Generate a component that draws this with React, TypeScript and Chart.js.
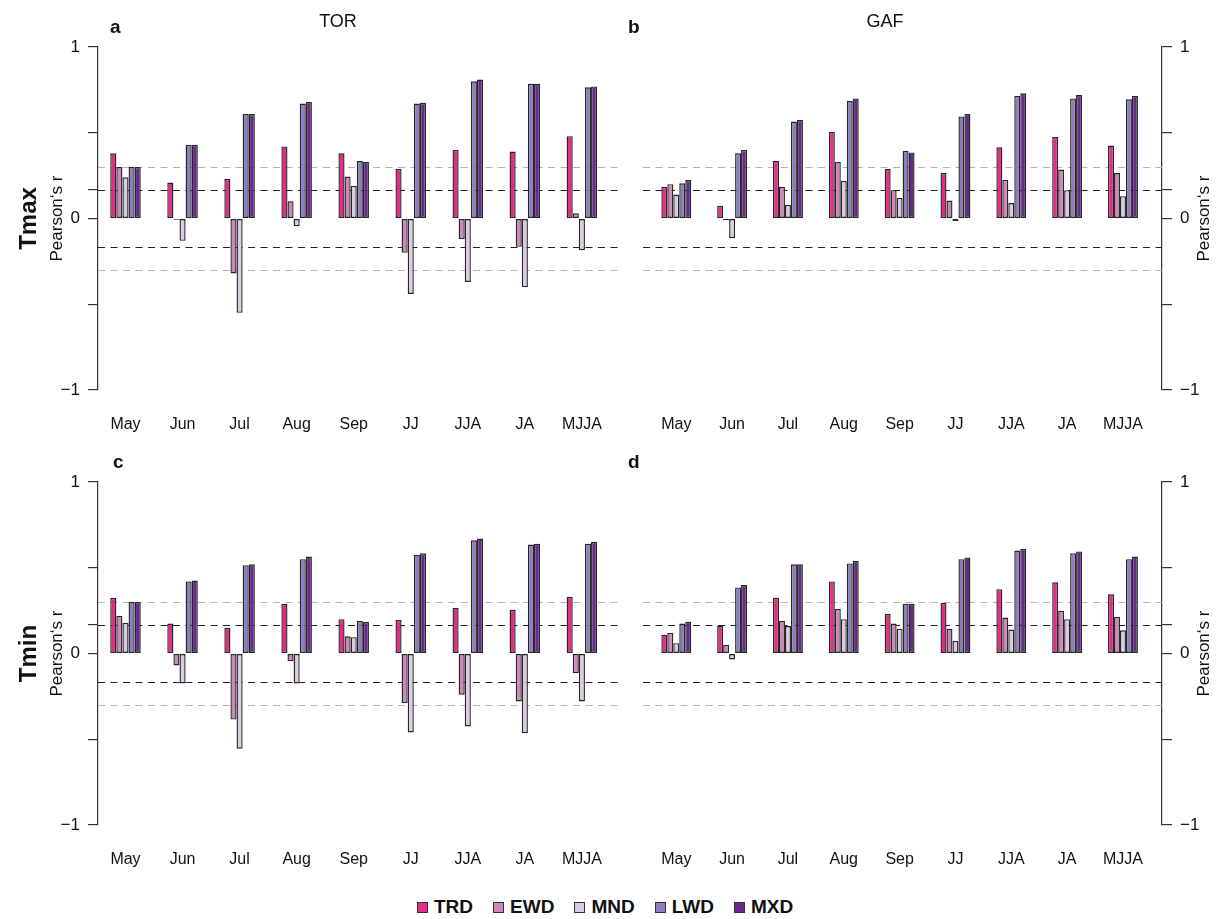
import React, { useEffect, useRef } from 'react';
import { Chart, registerables } from 'chart.js';

Chart.register(...registerables);

const FONT = '"Liberation Sans", Arial, Helvetica, sans-serif';

// ---------- data ----------
const categories = ['May', 'Jun', 'Jul', 'Aug', 'Sep', 'JJ', 'JJA', 'JA', 'MJJA'];
const seriesNames = ['TRD', 'EWD', 'MND', 'LWD', 'MXD'];
const seriesColors = ['#E52A88', '#CC88BC', '#DCCAE3', '#8D7DBC', '#69298C'];

// significance thresholds (black dashed, grey dashed)
const thresholds = [0.167, 0.3];
const thresholdColors = ['#222222', '#b4b4b4'];

const yTickValues = [-1, -0.5, 0, 0.167, 0.5, 1];
const yTickLabels = ['\u22121', '', '0', '', '', '1'];

// a: TOR, Tmax
const torTmaxTRD = [0.38, 0.21, 0.23, 0.42, 0.38, 0.29, 0.40, 0.39, 0.48];
const torTmaxEWD = [0.30, -0.008, -0.32, 0.10, 0.245, -0.20, -0.12, -0.165, 0.03];
const torTmaxMND = [0.24, -0.13, -0.55, -0.045, 0.19, -0.44, -0.37, -0.40, -0.185];
const torTmaxLWD = [0.30, 0.43, 0.61, 0.67, 0.335, 0.67, 0.80, 0.785, 0.765];
const torTmaxMXD = [0.30, 0.43, 0.61, 0.68, 0.33, 0.675, 0.81, 0.785, 0.77];

// b: GAF, Tmax
const gafTmaxTRD = [0.185, 0.075, 0.335, 0.505, 0.29, 0.265, 0.415, 0.475, 0.425];
const gafTmaxEWD = [0.20, -0.01, 0.185, 0.33, 0.165, 0.105, 0.225, 0.285, 0.265];
const gafTmaxMND = [0.14, -0.115, 0.08, 0.22, 0.12, -0.015, 0.09, 0.165, 0.13];
const gafTmaxLWD = [0.205, 0.38, 0.565, 0.685, 0.395, 0.595, 0.715, 0.70, 0.695];
const gafTmaxMXD = [0.225, 0.40, 0.575, 0.70, 0.385, 0.61, 0.73, 0.72, 0.715];

// c: TOR, Tmin
const torTminTRD = [0.325, 0.175, 0.15, 0.29, 0.20, 0.195, 0.265, 0.255, 0.33];
const torTminEWD = [0.22, -0.07, -0.385, -0.045, 0.10, -0.29, -0.24, -0.28, -0.115];
const torTminMND = [0.18, -0.175, -0.555, -0.175, 0.095, -0.46, -0.425, -0.465, -0.28];
const torTminLWD = [0.30, 0.42, 0.515, 0.55, 0.19, 0.575, 0.66, 0.635, 0.64];
const torTminMXD = [0.30, 0.425, 0.52, 0.565, 0.185, 0.585, 0.67, 0.64, 0.65];

// d: GAF, Tmin
const gafTminTRD = [0.11, 0.16, 0.325, 0.42, 0.23, 0.295, 0.375, 0.415, 0.345];
const gafTminEWD = [0.12, 0.05, 0.19, 0.26, 0.175, 0.145, 0.21, 0.25, 0.215];
const gafTminMND = [0.06, -0.035, 0.16, 0.20, 0.145, 0.075, 0.14, 0.20, 0.135];
const gafTminLWD = [0.175, 0.385, 0.52, 0.525, 0.29, 0.55, 0.60, 0.585, 0.55];
const gafTminMXD = [0.185, 0.40, 0.52, 0.54, 0.29, 0.56, 0.61, 0.595, 0.565];

type PanelProps = {
  left: number;
  top: number;
  width: number;
  height: number;
  side: 'left' | 'right';
  series: number[][];
  letter: string;
  letterX: number;
  title?: string;
  titleX?: number;
  rowLabel?: string;
  xMin: number;
  xMax: number;
};

function Panel(p: PanelProps) {
  const ref = useRef<HTMLCanvasElement | null>(null);

  useEffect(() => {
    if (!ref.current) return;
    const axisW = p.side === 'left' ? 98 : 58;
    const chartLeft = p.side === 'left' ? 98 : 643;
    const chartRight = p.side === 'left' ? 620 : 1162;
    const padLeft = p.side === 'left' ? 0 : chartLeft - p.left;
    const padRight = p.side === 'left' ? p.left + p.width - chartRight : 0;

    const overlay = {
      id: 'overlay',
      beforeDatasetsDraw(chart: any) {
        const { ctx, chartArea, scales } = chart;
        const ys = scales.y;
        ctx.save();
        ctx.lineWidth = 1.2;
        ctx.setLineDash([7, 5.5]);
        thresholds.forEach((t, k) => {
          ctx.strokeStyle = thresholdColors[k];
          [t, -t].forEach((v) => {
            const py = Math.round(ys.getPixelForValue(v)) + 0.5;
            ctx.beginPath();
            ctx.moveTo(chartArea.left, py);
            ctx.lineTo(chartArea.right, py);
            ctx.stroke();
          });
        });
        ctx.restore();
      },
      afterDraw(chart: any) {
        const { ctx, chartArea } = chart;
        const ox = p.left;
        const oy = p.top;
        const cy = (chartArea.top + chartArea.bottom) / 2;
        ctx.save();
        ctx.fillStyle = '#111';
        // panel letter
        ctx.font = `bold 19px ${FONT}`;
        ctx.textAlign = 'left';
        ctx.textBaseline = 'alphabetic';
        ctx.fillText(p.letter, p.letterX - ox, chartArea.top - 14);
        // column title
        if (p.title) {
          ctx.font = `18px ${FONT}`;
          ctx.textAlign = 'center';
          ctx.fillText(p.title, (p.titleX || 0) - ox, 27 - oy);
        }
        // axis title
        const ax = p.side === 'left' ? 57 - ox : 1204 - ox;
        ctx.save();
        ctx.translate(ax, cy);
        ctx.rotate(-Math.PI / 2);
        ctx.font = `17px ${FONT}`;
        ctx.textAlign = 'center';
        ctx.textBaseline = 'middle';
        ctx.fillText('Pearson\u2018s r', 0, 0);
        ctx.restore();
        // row label
        if (p.rowLabel) {
          ctx.save();
          ctx.translate(29 - ox, cy);
          ctx.rotate(-Math.PI / 2);
          ctx.font = `bold 24px ${FONT}`;
          ctx.textAlign = 'center';
          ctx.textBaseline = 'middle';
          ctx.fillText(p.rowLabel, 0, 0);
          ctx.restore();
        }
        ctx.restore();
      },
    };

    const datasets = seriesNames.map((name, k) => ({
      label: name,
      data: p.series[k].map((v, i) => ({ x: i, y: v })),
      backgroundColor: seriesColors[k],
      borderColor: '#262626',
      borderWidth: 1.4,
      borderSkipped: false,
      categoryPercentage: 0.535,
      barPercentage: 1.0,
    }));

    const chart = new Chart(ref.current, {
      type: 'bar',
      data: { datasets } as any,
      options: {
        animation: false,
        responsive: false,
        maintainAspectRatio: false,
        layout: { padding: { left: padLeft, right: padRight, top: 47, bottom: 0 } },
        plugins: { legend: { display: false }, tooltip: { enabled: false } },
        scales: {
          x: {
            type: 'linear',
            min: p.xMin,
            max: p.xMax,
            offset: false,
            grid: { display: false, drawTicks: false },
            border: { display: false },
            ticks: {
              stepSize: 1,
              autoSkip: false,
              maxRotation: 0,
              includeBounds: false,
              padding: 25,
              color: '#111',
              font: { family: FONT, size: 16 },
              callback: (v: any) => (Number.isInteger(v) && categories[v] !== undefined ? categories[v] : ''),
            },
            afterFit: (s: any) => {
              s.height = 55;
            },
          },
          y: {
            type: 'linear',
            position: p.side,
            min: -1,
            max: 1,
            afterBuildTicks: (s: any) => {
              s.ticks = yTickValues.map((v) => ({ value: v }));
            },
            ticks: {
              autoSkip: false,
              padding: 8,
              color: '#111',
              font: { family: FONT, size: 17 },
              callback: (v: any) => {
                const idx = yTickValues.indexOf(v);
                return idx >= 0 ? yTickLabels[idx] : '';
              },
            },
            grid: { drawOnChartArea: false, drawTicks: true, tickLength: 10, color: '#333', lineWidth: 1.2 },
            border: { display: true, color: '#333', width: 1.2 },
            afterFit: (s: any) => {
              s.width = axisW;
            },
          },
        },
      } as any,
      plugins: [overlay],
    });
    return () => chart.destroy();
  }, []);

  return (
    <canvas
      ref={ref}
      width={p.width}
      height={p.height}
      style={{ position: 'absolute', left: p.left, top: p.top, width: p.width, height: p.height }}
    />
  );
}

function Legend() {
  return (
    <div
      style={{
        position: 'absolute',
        left: 417,
        top: 896,
        display: 'flex',
        alignItems: 'center',
        gap: 20,
        fontFamily: FONT,
        fontWeight: 'bold',
        fontSize: 19,
        color: '#111',
        lineHeight: '22px',
      }}
    >
      {seriesNames.map((n, k) => (
        <div key={n} style={{ display: 'flex', alignItems: 'center', gap: 6 }}>
          <span
            style={{
              display: 'inline-block',
              width: 9,
              height: 9,
              background: seriesColors[k],
              border: '1px solid #333',
            }}
          />
          <span>{n}</span>
        </div>
      ))}
    </div>
  );
}

export default function App() {
  return (
    <div style={{ position: 'fixed', left: 0, top: 0, width: 1220, height: 919, background: '#fff', overflow: 'hidden' }}>
      <Panel
        left={0}
        top={0}
        width={630}
        height={445}
        side="left"
        series={[torTmaxTRD, torTmaxEWD, torTmaxMND, torTmaxLWD, torTmaxMXD]}
        letter="a"
        letterX={110}
        title="TOR"
        titleX={338}
        rowLabel="Tmax"
        xMin={-0.482}
        xMax={8.668}
      />
      <Panel
        left={620}
        top={0}
        width={600}
        height={445}
        side="right"
        series={[gafTmaxTRD, gafTmaxEWD, gafTmaxMND, gafTmaxLWD, gafTmaxMXD]}
        letter="b"
        letterX={628}
        title="GAF"
        titleX={885}
        xMin={-0.596}
        xMax={8.699}
      />
      <Panel
        left={0}
        top={435}
        width={630}
        height={445}
        side="left"
        series={[torTminTRD, torTminEWD, torTminMND, torTminLWD, torTminMXD]}
        letter="c"
        letterX={113}
        rowLabel="Tmin"
        xMin={-0.482}
        xMax={8.668}
      />
      <Panel
        left={620}
        top={435}
        width={600}
        height={445}
        side="right"
        series={[gafTminTRD, gafTminEWD, gafTminMND, gafTminLWD, gafTminMXD]}
        letter="d"
        letterX={628}
        xMin={-0.596}
        xMax={8.699}
      />
      <Legend />
    </div>
  );
}
